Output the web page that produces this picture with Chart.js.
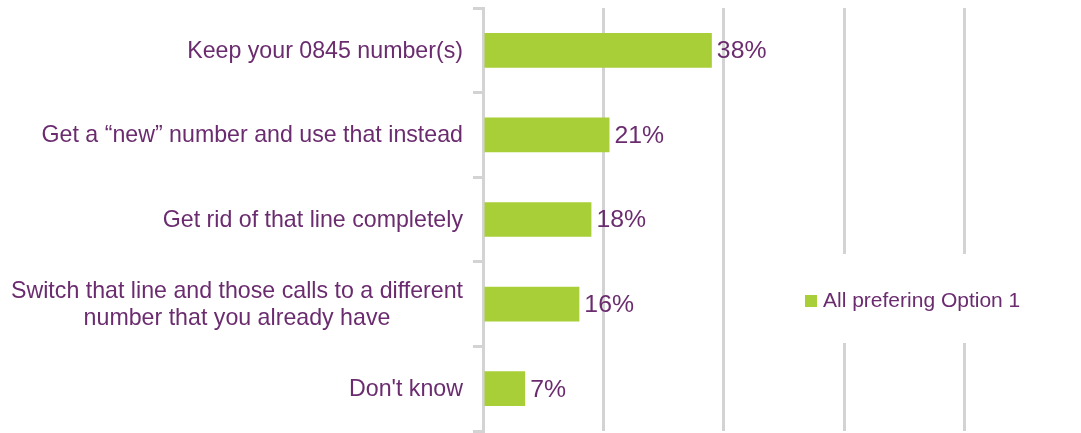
<!DOCTYPE html>
<html>
<head>
<meta charset="utf-8">
<script src="https://cdn.jsdelivr.net/npm/chart.js@4/dist/chart.umd.min.js"></script>
<style>
  html, body { margin: 0; padding: 0; background: #ffffff; overflow: hidden; }
  #wrap { width: 1081px; height: 433px; position: relative; }
</style>
</head>
<body>
<div id="wrap"><canvas id="c"></canvas></div>
<script>
const categories = [
  "Keep your 0845 number(s)",
  "Get a \u201cnew\u201d number and use that instead",
  "Get rid of that line completely",
  ["Switch that line and those calls to a different", "number that you already have"],
  "Don't know"
];
const values = [38, 21, 18, 16, 7];
const seriesName = "All prefering Option 1";
const gridTicks = [0, 20, 40, 60, 80];

const PURPLE = "#6b2c6f";
const GREEN = "#a8cf38";
const GRID = "#d3d3d3";
const FONT = "'Liberation Sans', Arial, sans-serif";

const labelPlugin = {
  id: "customText",
  afterDraw(chart) {
    const ctx = chart.ctx;
    const y = chart.scales.y;
    ctx.save();
    ctx.fillStyle = PURPLE;
    ctx.font = "23.2px " + FONT;
    ctx.textBaseline = "middle";
    const rightX = 463;
    const lh = 27;
    categories.forEach((lab, i) => {
      const cy = y.getPixelForValue(i) + 1;
      const lines = Array.isArray(lab) ? lab : [lab];
      const maxW = Math.max(...lines.map(l => ctx.measureText(l).width));
      const startY = cy - (lines.length - 1) * lh / 2;
      if (lines.length === 1) {
        ctx.textAlign = "right";
        ctx.fillText(lines[0], rightX, cy);
      } else {
        ctx.textAlign = "center";
        lines.forEach((l, k) => ctx.fillText(l, rightX - maxW / 2, startY + k * lh));
      }
    });
    ctx.font = "24.8px " + FONT;
    ctx.textAlign = "left";
    const meta = chart.getDatasetMeta(0);
    meta.data.forEach((bar, i) => {
      ctx.fillText(values[i] + "%", bar.x + 5, bar.y + 1);
    });
    ctx.fillStyle = "#ffffff";
    ctx.fillRect(790, 254, 291, 89);
    ctx.fillStyle = GREEN;
    ctx.fillRect(805, 295, 12, 12);
    ctx.fillStyle = PURPLE;
    ctx.font = "21px " + FONT;
    ctx.textAlign = "left";
    ctx.fillText(seriesName, 823, 301);
    ctx.restore();
  }
};

new Chart(document.getElementById("c"), {
  type: "bar",
  data: {
    labels: categories,
    datasets: [{
      label: seriesName,
      data: values,
      backgroundColor: GREEN,
      borderWidth: 0,
      categoryPercentage: 1.0,
      barPercentage: 0.41
    }]
  },
  options: {
    indexAxis: "y",
    responsive: true,
    maintainAspectRatio: false,
    animation: false,
    layout: { padding: { top: 8, bottom: 2, left: 0, right: 0 } },
    plugins: { legend: { display: false }, tooltip: { enabled: false } },
    scales: {
      x: {
        min: 0,
        max: 99.3,
        afterBuildTicks(scale) {
          scale.ticks = gridTicks.map(v => ({ value: v }));
        },
        ticks: { display: false },
        grid: { color: GRID, lineWidth: 3, drawTicks: false },
        border: { display: false },
        afterFit(scale) { scale.height = 0; }
      },
      y: {
        ticks: { color: "rgba(0,0,0,0)", font: { size: 1 }, padding: 0 },
        grid: { offset: true, drawOnChartArea: false, tickLength: 10, color: GRID, lineWidth: 3 },
        border: { display: true, color: GRID, width: 3 },
        afterFit(scale) { scale.width = 483; }
      }
    }
  },
  plugins: [labelPlugin]
});
</script>
</body>
</html>
